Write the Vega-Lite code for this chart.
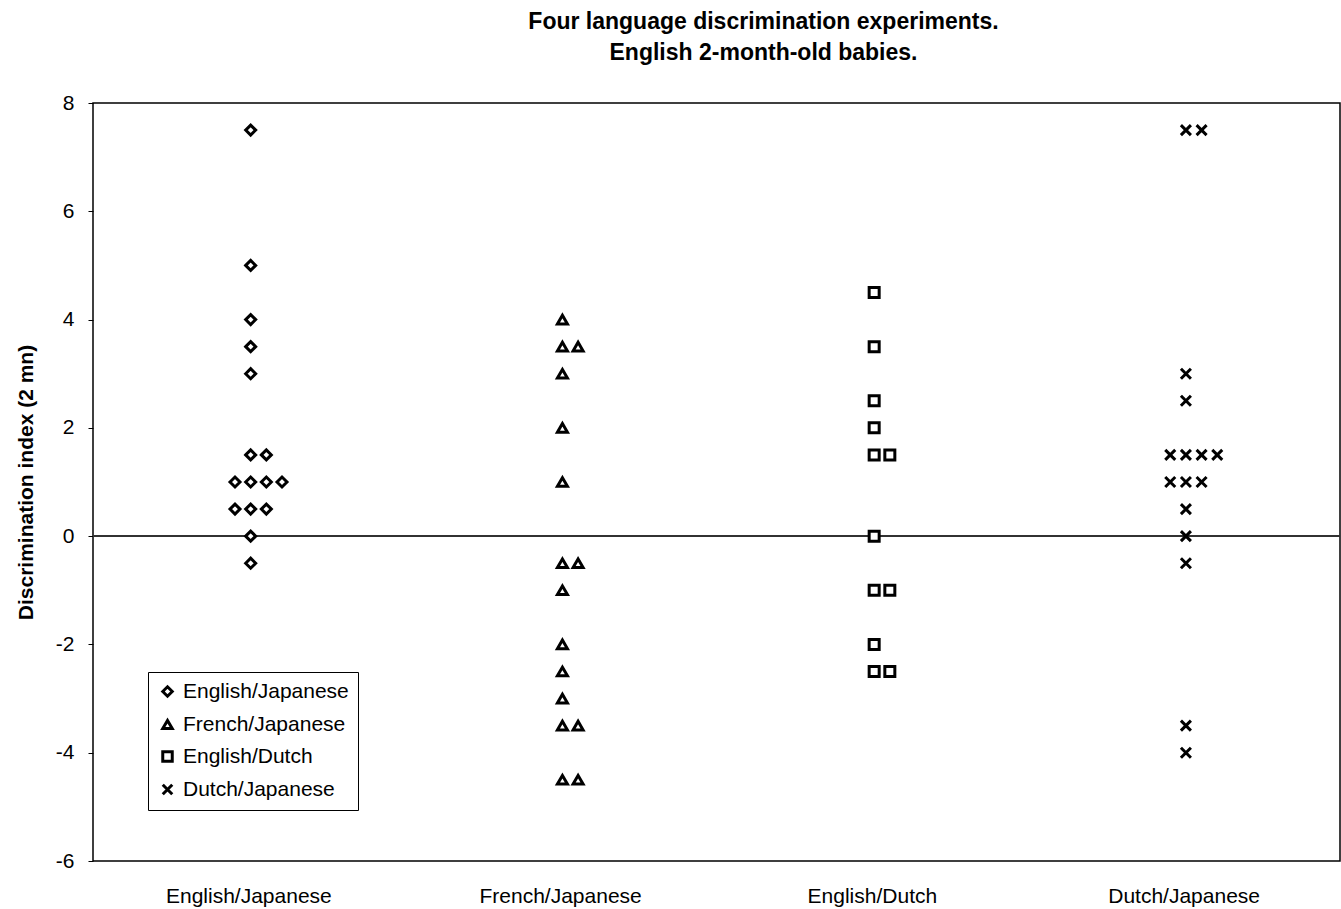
{
  "$schema": "https://vega.github.io/schema/vega-lite/v6.json",
  "width": 1247,
  "height": 758,
  "autosize": {"type": "none"},
  "padding": {"left": 93, "top": 103, "right": 1, "bottom": 48},
  "background": "white",
  "config": {
    "font": "Liberation Sans",
    "view": {"stroke": "black", "strokeWidth": 1.5},
    "axis": {"grid": false, "labelColor": "black", "titleColor": "black", "domain": false}
  },
  "title": {
    "text": ["Four language discrimination experiments.", "English 2-month-old babies."],
    "fontSize": 23,
    "fontWeight": "bold",
    "lineHeight": 31,
    "anchor": "middle",
    "dx": 47,
    "offset": 27,
    "color": "black"
  },
  "data": {
    "values": [
      {"pair": "English/Japanese", "index": 7.5},
      {"pair": "English/Japanese", "index": 5},
      {"pair": "English/Japanese", "index": 4},
      {"pair": "English/Japanese", "index": 3.5},
      {"pair": "English/Japanese", "index": 3},
      {"pair": "English/Japanese", "index": 1.5},
      {"pair": "English/Japanese", "index": 1.5},
      {"pair": "English/Japanese", "index": 1},
      {"pair": "English/Japanese", "index": 1},
      {"pair": "English/Japanese", "index": 1},
      {"pair": "English/Japanese", "index": 1},
      {"pair": "English/Japanese", "index": 0.5},
      {"pair": "English/Japanese", "index": 0.5},
      {"pair": "English/Japanese", "index": 0.5},
      {"pair": "English/Japanese", "index": 0},
      {"pair": "English/Japanese", "index": -0.5},
      {"pair": "French/Japanese", "index": 4},
      {"pair": "French/Japanese", "index": 3.5},
      {"pair": "French/Japanese", "index": 3.5},
      {"pair": "French/Japanese", "index": 3},
      {"pair": "French/Japanese", "index": 2},
      {"pair": "French/Japanese", "index": 1},
      {"pair": "French/Japanese", "index": -0.5},
      {"pair": "French/Japanese", "index": -0.5},
      {"pair": "French/Japanese", "index": -1},
      {"pair": "French/Japanese", "index": -2},
      {"pair": "French/Japanese", "index": -2.5},
      {"pair": "French/Japanese", "index": -3},
      {"pair": "French/Japanese", "index": -3.5},
      {"pair": "French/Japanese", "index": -3.5},
      {"pair": "French/Japanese", "index": -4.5},
      {"pair": "French/Japanese", "index": -4.5},
      {"pair": "English/Dutch", "index": 4.5},
      {"pair": "English/Dutch", "index": 3.5},
      {"pair": "English/Dutch", "index": 2.5},
      {"pair": "English/Dutch", "index": 2},
      {"pair": "English/Dutch", "index": 1.5},
      {"pair": "English/Dutch", "index": 1.5},
      {"pair": "English/Dutch", "index": 0},
      {"pair": "English/Dutch", "index": -1},
      {"pair": "English/Dutch", "index": -1},
      {"pair": "English/Dutch", "index": -2},
      {"pair": "English/Dutch", "index": -2.5},
      {"pair": "English/Dutch", "index": -2.5},
      {"pair": "Dutch/Japanese", "index": 7.5},
      {"pair": "Dutch/Japanese", "index": 7.5},
      {"pair": "Dutch/Japanese", "index": 3},
      {"pair": "Dutch/Japanese", "index": 2.5},
      {"pair": "Dutch/Japanese", "index": 1.5},
      {"pair": "Dutch/Japanese", "index": 1.5},
      {"pair": "Dutch/Japanese", "index": 1.5},
      {"pair": "Dutch/Japanese", "index": 1.5},
      {"pair": "Dutch/Japanese", "index": 1},
      {"pair": "Dutch/Japanese", "index": 1},
      {"pair": "Dutch/Japanese", "index": 1},
      {"pair": "Dutch/Japanese", "index": 0.5},
      {"pair": "Dutch/Japanese", "index": 0},
      {"pair": "Dutch/Japanese", "index": -0.5},
      {"pair": "Dutch/Japanese", "index": -3.5},
      {"pair": "Dutch/Japanese", "index": -4}
    ]
  },
  "layer": [
    {
      "mark": {"type": "rule", "color": "#333", "strokeWidth": 1},
      "encoding": {"y": {"datum": 0, "type": "quantitative"}}
    },
    {
      "transform": [
        {"window": [{"op": "count", "as": "n"}, {"op": "row_number", "as": "rn"}], "groupby": ["pair", "index"], "frame": [null, null]},
        {"calculate": "datum.rn - 1 - (datum.n >= 3 ? 1 : 0)", "as": "slot"}
      ],
      "mark": {"type": "point", "filled": false, "color": "black", "fill": "white", "fillOpacity": 1, "strokeWidth": 3, "size": 100, "opacity": 1},
      "encoding": {
        "x": {
          "field": "pair", "type": "nominal",
          "sort": ["English/Japanese", "French/Japanese", "English/Dutch", "Dutch/Japanese"],
          "scale": {"paddingInner": 0, "paddingOuter": 0},
          "axis": {"title": null, "labelAngle": 0, "ticks": false, "labelPadding": 24, "labelFontSize": 21}
        },
        "xOffset": {"field": "slot", "type": "quantitative", "scale": {"domain": [-1, 2], "range": [142, 189], "zero": false}},
        "y": {
          "field": "index", "type": "quantitative",
          "scale": {"domain": [-6, 8], "nice": false},
          "axis": {"values": [-6, -4, -2, 0, 2, 4, 6, 8], "labelExpr": "toString(datum.value)", "title": "Discrimination index (2 mn)", "titleFontSize": 21, "titleFontWeight": "bold", "labelFontSize": 21, "tickColor": "black", "tickSize": 5, "labelPadding": 14, "titlePadding": 19}
        },
        "shape": {
          "field": "pair", "type": "nominal",
          "scale": {"domain": ["English/Japanese", "French/Japanese", "English/Dutch", "Dutch/Japanese"], "range": ["diamond", "triangle-up", "square", "M-1,-1L1,1M-1,1L1,-1"]},
          "legend": {
            "title": null, "orient": "none", "legendX": 55, "legendY": 569,
            "strokeColor": "black", "fillColor": "white", "padding": 9,
            "labelFontSize": 21, "labelColor": "black", "labelLimit": 400, "rowPadding": 10, "symbolSize": 90,
            "symbolStrokeWidth": 3,
            "labelOffset": 5,
            "encode": {
              "symbols": {
                "update": {
                  "stroke": {"value": "black"},
                  "strokeWidth": {"value": 3},
                  "fill": {"value": "white"},
                  "opacity": {"value": 1},
                  "fillOpacity": {"value": 1},
                  "strokeOpacity": {"value": 1}
                }
              }
            }
          }
        }
      }
    }
  ]
}
